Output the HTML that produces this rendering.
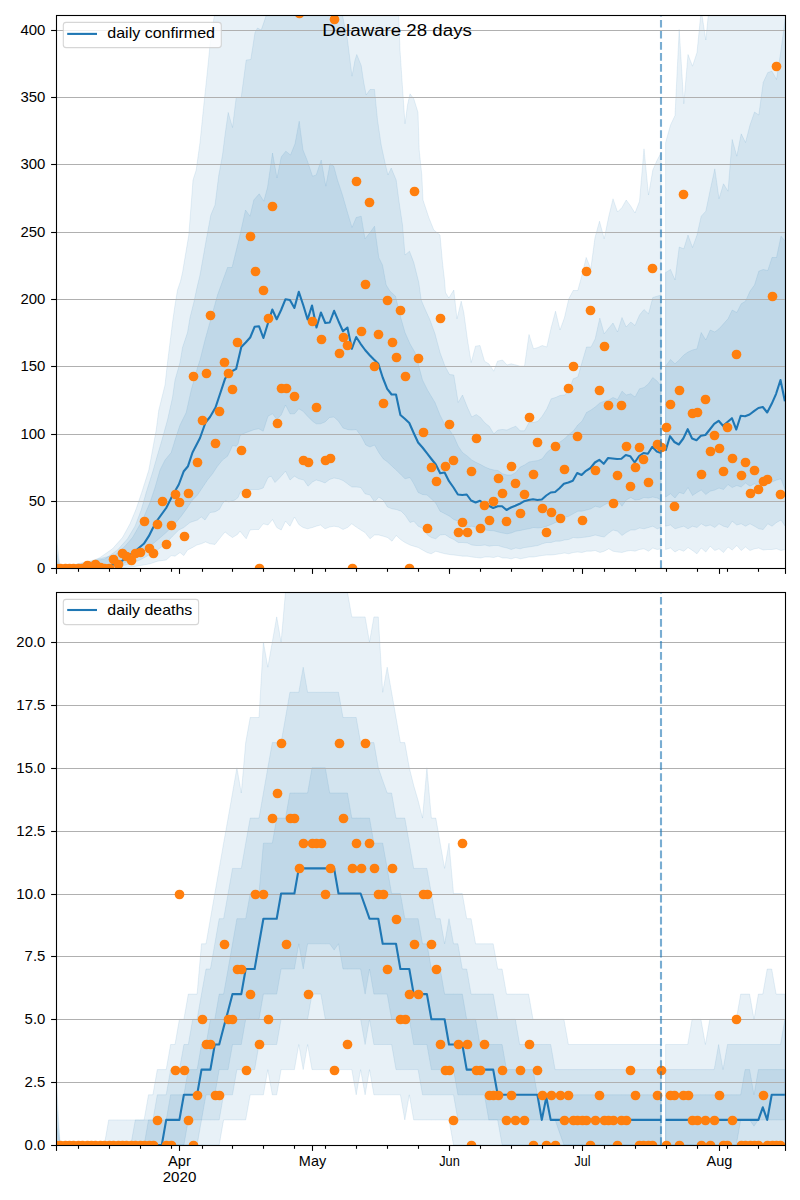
<!DOCTYPE html>
<html><head><meta charset="utf-8"><title>Delaware 28 days</title>
<style>html,body{margin:0;padding:0;background:#fff}svg{display:block}text{font-family:"Liberation Sans",sans-serif;fill:#000}</style></head><body>
<svg width="800" height="1200" viewBox="0 0 800 1200">
<rect width="800" height="1200" fill="#fff"/>
<defs><clipPath id="ct"><rect x="56" y="15.05" width="728.92" height="553.0"/></clipPath><clipPath id="cb"><rect x="56" y="592.05" width="728.92" height="553.0"/></clipPath></defs>
<g clip-path="url(#ct)">
<polygon points="55.7,531.7 60.1,567.6 87.5,563.8 100.0,557.5 112.5,548.8 122.5,537.5 130.0,523.8 136.2,508.8 142.5,490.0 148.8,470.0 152.5,450.0 156.2,430.0 158.8,410.0 165.0,385.0 167.5,362.5 170.0,342.5 172.5,322.5 175.0,305.0 177.5,290.0 180.5,281.2 182.5,272.5 188.8,235.0 193.0,180.0 196.2,170.0 200.0,142.5 203.8,105.0 207.0,75.0 210.0,45.0 213.8,18.8 215.5,10.0 217.5,-10.0 300.0,-30.0 390.0,-30.0 398.0,-10.0 398.8,15.5 400.0,50.0 402.5,87.5 405.0,123.8 407.5,105.0 410.0,93.8 413.8,98.8 418.0,112.5 419.2,150.0 421.8,175.0 423.0,200.0 428.8,217.5 433.8,230.0 440.0,235.0 442.5,262.5 444.5,280.0 445.5,292.5 448.8,298.0 453.8,290.0 457.0,318.8 461.2,301.2 463.8,312.5 467.5,340.0 471.2,362.5 475.5,346.2 480.0,345.5 484.5,361.2 488.8,363.8 493.8,371.2 497.5,361.2 502.5,360.0 507.0,365.0 511.2,363.8 515.8,365.0 520.2,366.2 524.5,366.2 529.0,334.5 533.5,348.8 538.0,347.5 542.2,345.5 546.8,347.0 551.2,327.5 555.5,311.2 560.0,330.0 564.5,317.5 568.8,298.8 573.2,290.5 577.8,290.5 582.0,275.0 586.2,257.5 590.8,268.8 595.0,237.5 599.5,221.2 604.2,238.8 608.8,216.2 613.0,198.8 617.5,212.0 622.0,207.5 626.2,200.0 630.8,206.2 635.0,213.0 639.5,201.2 644.0,148.8 648.5,195.0 652.8,170.0 657.2,160.0 661.2,152.5 661.2,548.8 657.2,549.5 652.8,548.0 648.5,551.2 644.0,548.8 639.5,549.5 635.0,551.2 630.8,550.5 626.2,551.2 622.0,552.5 617.5,552.0 613.0,551.2 608.8,548.8 604.2,551.2 600.0,552.5 595.2,550.5 591.0,551.2 586.5,551.2 582.0,552.5 577.8,552.0 573.2,552.5 568.8,553.8 564.5,553.0 560.0,553.8 555.5,554.5 551.2,555.0 546.8,555.0 542.2,555.5 538.0,556.2 533.5,557.0 529.0,557.0 524.5,558.0 520.2,558.8 515.8,557.5 511.2,558.8 507.0,558.0 502.5,558.0 498.0,556.2 493.8,557.5 489.2,557.0 485.0,557.0 480.5,558.0 476.2,557.5 471.8,557.0 467.5,556.2 462.5,556.2 458.2,555.5 453.8,555.0 449.5,554.5 445.0,553.8 440.0,552.5 435.8,551.2 431.2,553.8 427.0,552.5 422.5,550.0 418.2,547.5 413.8,546.2 410.0,545.0 405.0,542.5 401.2,540.0 396.2,535.5 392.0,541.2 387.5,537.5 383.2,536.2 378.8,535.0 374.5,535.0 370.0,538.8 365.0,532.5 360.8,530.0 356.2,527.0 351.8,523.8 347.5,527.5 343.0,529.5 338.5,527.0 334.0,526.2 329.5,527.0 325.0,528.8 320.5,525.0 316.2,526.2 312.5,527.5 307.5,528.8 303.0,527.5 298.8,524.5 294.5,517.0 290.0,526.2 285.5,521.2 281.2,530.0 276.8,527.5 272.5,519.5 268.0,525.0 263.2,523.8 258.8,529.5 254.5,529.5 250.0,530.0 246.2,538.8 240.0,531.2 237.5,534.4 232.5,537.5 228.8,535.0 225.0,531.9 220.0,538.1 215.0,544.4 210.0,543.8 205.6,541.9 201.2,543.8 196.9,545.0 192.5,547.5 187.5,550.0 183.8,555.6 180.0,552.5 175.0,556.2 171.2,555.6 166.2,560.0 157.5,561.2 150.0,563.8 135.0,566.5 120.0,568.0 55.7,568.0" fill="#1f77b4" fill-opacity="0.1" stroke="#1f77b4" stroke-opacity="0.1" stroke-width="1" stroke-linejoin="miter"/>
<polygon points="55.7,547.9 60.1,567.8 105.0,558.8 117.5,550.0 127.5,538.8 135.0,526.2 141.2,510.0 146.2,492.5 152.5,472.5 157.5,455.0 161.2,442.5 167.5,420.0 172.5,397.5 175.0,380.0 180.0,362.5 182.5,347.5 187.5,332.5 190.0,317.5 193.8,302.5 197.0,287.5 200.0,275.0 206.2,240.0 210.8,215.0 215.0,205.0 218.8,175.0 222.5,155.0 225.0,135.0 228.2,112.5 232.5,127.5 236.2,97.5 241.2,97.5 246.2,60.0 250.8,59.5 255.0,32.5 257.5,28.0 261.2,30.0 266.2,15.5 268.0,-10.0 341.2,-10.0 342.5,15.5 347.5,40.0 352.0,76.2 355.0,60.0 356.8,54.5 361.2,65.5 363.8,82.5 366.2,95.0 370.0,89.5 374.5,89.5 377.5,120.0 381.2,145.0 385.5,165.0 388.0,175.0 391.2,168.0 396.2,180.0 398.8,200.0 402.5,225.0 405.0,255.0 409.5,251.2 413.8,262.5 418.8,282.5 421.2,300.0 425.0,309.0 430.0,320.0 435.0,333.8 440.0,352.5 445.0,366.2 449.5,374.5 453.8,375.0 458.2,402.5 462.5,395.0 467.5,407.5 471.8,417.0 476.2,414.5 480.5,417.5 485.0,423.0 489.2,426.2 493.8,433.8 498.0,430.0 502.5,429.5 507.0,430.0 511.2,428.0 515.8,426.2 520.2,430.8 524.5,430.8 529.0,422.5 533.5,422.5 538.0,421.2 542.2,416.2 546.8,408.8 551.2,398.8 555.5,397.5 560.0,395.5 564.5,395.0 568.8,391.2 573.2,378.8 577.8,377.0 582.0,362.5 586.5,347.0 591.0,347.0 595.2,338.8 599.8,318.0 604.2,333.8 608.8,328.0 613.0,323.0 617.5,332.0 622.0,317.5 626.2,327.0 630.8,322.0 635.0,325.5 639.5,315.0 644.0,309.5 648.5,313.8 652.8,297.5 657.2,296.2 661.2,295.0 661.2,527.5 657.2,528.8 652.8,526.2 648.5,527.5 644.0,528.8 639.5,528.0 635.0,530.0 630.8,530.0 626.2,532.5 622.0,535.5 617.5,531.2 613.0,530.0 608.8,533.0 604.2,537.0 600.0,536.2 595.2,535.0 591.0,536.2 586.5,537.0 582.0,537.5 577.8,538.0 573.2,537.5 568.8,539.5 564.5,540.0 560.0,541.2 555.5,541.2 551.2,542.5 546.8,542.5 542.2,543.8 538.0,545.5 533.5,546.2 529.0,547.0 524.5,547.5 520.2,548.8 515.8,548.0 511.2,549.5 507.0,548.0 502.5,547.0 498.0,545.5 493.8,545.5 489.2,546.2 485.0,545.0 480.5,545.5 476.2,545.5 471.8,545.0 467.5,543.0 462.5,542.5 458.2,542.5 453.8,539.5 449.5,537.5 445.0,534.5 440.0,535.0 435.8,538.8 431.2,537.5 427.5,535.0 422.5,528.2 418.2,526.2 413.8,521.2 410.0,522.5 405.0,515.0 401.2,511.2 396.2,509.5 392.0,508.8 387.5,507.0 383.2,500.0 378.8,497.0 374.5,502.0 370.0,495.0 365.0,493.8 360.8,487.5 356.2,487.0 351.8,487.0 347.5,483.8 343.0,480.5 338.5,478.8 334.0,478.0 329.5,479.5 325.0,483.0 320.5,481.2 316.2,480.0 312.5,482.0 308.0,486.2 303.8,480.0 298.8,478.8 294.5,476.2 290.0,480.0 285.5,471.2 280.0,477.5 275.0,482.5 271.2,476.2 268.0,477.5 263.2,488.0 258.8,489.5 251.2,489.5 246.2,490.5 240.0,492.5 238.1,497.5 235.0,500.0 228.8,501.9 225.0,500.6 222.5,503.8 219.4,509.4 215.0,511.9 210.0,512.5 205.0,520.0 201.2,516.9 197.5,520.0 193.8,521.2 190.0,522.5 183.8,527.5 178.8,530.0 172.5,536.2 166.2,543.1 157.5,550.0 150.0,554.4 140.0,560.0 130.0,564.0 112.0,568.0 55.7,568.0" fill="#1f77b4" fill-opacity="0.1" stroke="#1f77b4" stroke-opacity="0.1" stroke-width="1" stroke-linejoin="miter"/>
<polygon points="55.7,557.3 60.1,567.9 115.0,555.0 125.0,546.2 132.5,537.5 142.5,520.0 150.0,502.5 155.0,487.5 160.0,470.0 165.0,460.0 171.2,452.5 175.0,440.0 180.0,425.0 186.2,412.5 191.2,390.0 197.5,367.5 200.0,360.0 205.0,340.0 217.5,295.0 227.5,267.5 232.0,267.5 238.8,240.0 245.5,210.0 250.0,216.2 253.8,200.0 259.2,193.8 263.8,201.2 267.5,187.5 272.5,153.0 277.0,178.0 281.2,157.0 285.8,151.2 290.5,155.0 295.0,143.8 299.2,121.2 303.0,150.0 307.5,161.2 312.5,176.2 316.2,175.0 321.2,160.0 325.8,186.2 330.0,163.8 333.8,166.2 337.5,180.0 342.5,195.0 347.5,212.5 352.0,227.5 356.2,217.5 361.2,216.2 365.0,238.8 370.0,232.5 374.5,226.2 378.8,257.5 382.5,265.0 386.2,285.0 390.0,291.2 395.5,296.2 400.0,315.0 405.0,332.5 410.0,343.8 415.0,352.5 418.2,363.8 422.5,380.0 427.5,390.0 435.0,402.5 440.0,415.0 445.0,425.0 449.5,430.0 453.8,436.2 458.2,446.2 462.5,452.5 467.5,456.2 471.8,460.0 476.2,462.5 480.5,464.5 485.0,467.0 489.2,468.8 493.8,470.0 498.0,470.5 502.5,473.8 507.0,475.0 511.2,475.0 515.8,472.5 520.2,467.0 524.5,465.0 529.0,462.0 533.5,461.2 538.0,460.5 542.2,458.8 546.8,452.5 551.2,448.8 555.5,445.0 560.0,442.0 564.5,438.8 568.8,434.5 573.2,431.2 577.8,425.0 582.0,421.2 586.5,412.5 591.0,410.0 595.2,407.0 599.8,403.0 604.2,401.2 608.8,400.0 613.0,397.5 617.5,399.5 622.0,391.2 626.2,395.0 630.8,393.8 635.0,397.0 639.5,388.8 644.0,387.5 648.5,383.8 652.8,377.5 657.2,381.2 661.2,386.2 661.2,500.0 657.2,498.0 652.8,497.0 648.5,498.0 644.0,497.5 639.5,499.5 635.0,500.0 630.8,497.5 626.2,500.0 622.0,506.2 617.5,500.0 613.0,501.2 608.8,502.5 604.2,505.0 600.0,507.5 595.2,506.2 591.0,508.8 586.5,510.0 582.0,511.2 577.8,511.2 573.2,513.8 568.8,516.2 564.5,517.5 560.0,521.2 555.5,522.5 551.2,524.5 546.8,526.2 542.2,527.5 538.0,528.0 533.5,527.5 529.0,528.8 524.5,529.5 520.2,530.5 515.8,531.2 511.2,533.0 507.0,533.8 502.5,533.0 498.0,532.0 493.8,530.8 489.2,530.5 485.0,530.0 480.5,529.5 476.2,527.5 471.8,526.2 467.5,527.0 462.5,526.2 458.2,521.2 453.8,519.5 449.5,516.2 445.0,513.8 440.0,511.2 435.8,503.2 431.2,498.8 427.0,495.0 422.5,494.5 418.2,492.5 413.8,483.8 410.0,477.5 405.0,478.8 401.2,475.0 396.2,470.0 392.0,466.2 387.5,462.0 383.2,458.8 378.8,452.5 374.5,445.0 370.0,447.0 365.8,445.0 361.2,436.2 356.2,429.5 351.8,430.0 347.5,429.5 343.0,428.0 338.5,421.2 334.0,417.0 329.5,417.5 325.0,422.0 320.5,423.8 316.2,423.8 312.5,421.2 307.5,416.2 303.0,411.2 298.8,408.8 294.5,413.8 290.0,413.8 285.5,405.0 281.2,415.0 276.8,419.5 272.5,413.8 268.0,416.2 263.2,431.2 258.8,428.8 254.5,429.5 250.0,431.2 245.0,433.0 240.0,435.5 238.1,443.8 236.2,446.2 232.5,445.6 230.0,451.2 227.5,456.2 222.5,460.0 217.5,466.2 212.5,473.8 207.5,480.0 202.5,487.5 197.5,495.0 192.5,500.0 187.5,507.5 181.2,516.2 175.0,523.8 166.2,532.5 157.5,540.0 150.0,546.2 135.0,558.0 120.0,565.0 105.0,568.0 55.7,568.0" fill="#1f77b4" fill-opacity="0.1" stroke="#1f77b4" stroke-opacity="0.1" stroke-width="1" stroke-linejoin="miter"/>
<polygon points="665.6,142.5 670.5,125.0 675.0,115.5 679.2,29.5 683.8,103.8 688.0,54.5 692.5,66.2 697.0,52.5 701.2,10.0 705.8,40.0 708.8,10.0 710.0,-10.0 790.0,-40.0 785.2,549.5 781.0,550.5 776.5,548.8 772.0,549.5 767.8,549.5 763.2,550.0 758.8,548.0 754.5,548.8 750.0,550.5 745.5,547.0 741.2,550.5 736.8,545.5 732.2,550.0 728.0,547.0 723.5,552.5 719.0,548.8 714.8,550.5 710.2,546.2 705.8,552.0 701.2,548.0 697.0,553.8 692.5,550.5 688.0,547.5 683.8,551.2 679.2,549.5 675.0,552.0 670.5,548.0 665.6,549.5" fill="#1f77b4" fill-opacity="0.1" stroke="#1f77b4" stroke-opacity="0.1" stroke-width="1" stroke-linejoin="miter"/>
<polygon points="665.6,272.5 670.5,269.5 675.0,280.0 679.2,247.0 683.8,248.8 688.0,235.0 692.5,247.5 697.0,235.0 701.2,216.2 705.8,211.2 710.2,190.0 714.8,168.8 719.0,198.8 723.5,183.8 728.0,191.2 732.2,139.5 736.8,156.2 741.2,133.8 745.5,142.5 750.0,125.0 754.5,112.0 758.8,115.0 763.2,82.5 767.8,72.5 772.0,71.2 776.5,79.5 781.0,50.0 785.2,18.8 785.2,526.2 781.0,520.0 776.5,522.5 772.0,526.2 767.8,523.8 763.2,529.5 758.8,528.8 754.5,526.2 750.0,523.8 745.5,526.2 741.2,523.8 736.8,525.0 732.2,521.2 728.0,527.5 723.5,526.2 719.0,523.8 714.8,527.5 710.2,525.0 705.8,526.2 701.2,523.8 697.0,527.5 692.5,526.2 688.0,528.8 683.8,526.2 679.2,527.5 675.0,528.8 670.5,525.0 665.6,526.2" fill="#1f77b4" fill-opacity="0.1" stroke="#1f77b4" stroke-opacity="0.1" stroke-width="1" stroke-linejoin="miter"/>
<polygon points="665.6,366.2 670.5,359.5 675.0,363.8 679.2,360.0 683.8,355.0 688.0,352.0 692.5,350.0 697.0,348.8 701.2,332.5 705.8,340.0 710.2,330.0 714.8,332.0 719.0,328.8 723.5,323.8 728.0,318.8 732.2,310.0 736.8,312.5 741.2,303.8 745.5,301.2 750.0,291.2 754.5,285.0 758.8,271.2 763.2,269.5 767.8,270.5 772.0,257.5 776.5,257.5 781.0,236.2 785.2,241.2 785.2,490.0 781.0,478.8 776.5,480.0 772.0,482.0 767.8,483.8 763.2,485.0 758.8,486.2 754.5,483.8 750.0,486.2 745.5,483.0 741.2,487.0 736.8,485.5 732.2,487.5 728.0,484.5 723.5,489.5 719.0,488.0 714.8,490.0 710.2,491.2 705.8,494.5 701.2,490.0 697.0,492.5 692.5,495.5 688.0,487.5 683.8,493.8 679.2,492.5 675.0,498.0 670.5,493.8 665.6,497.0" fill="#1f77b4" fill-opacity="0.1" stroke="#1f77b4" stroke-opacity="0.1" stroke-width="1" stroke-linejoin="miter"/>
</g>
<g clip-path="url(#ct)" stroke="#b0b0b0" stroke-width="1.1"><line x1="55.7" x2="784.92" y1="501.5" y2="501.5"/><line x1="55.7" x2="784.92" y1="434.5" y2="434.5"/><line x1="55.7" x2="784.92" y1="366.5" y2="366.5"/><line x1="55.7" x2="784.92" y1="299.5" y2="299.5"/><line x1="55.7" x2="784.92" y1="232.5" y2="232.5"/><line x1="55.7" x2="784.92" y1="164.5" y2="164.5"/><line x1="55.7" x2="784.92" y1="97.5" y2="97.5"/><line x1="55.7" x2="784.92" y1="30.5" y2="30.5"/></g>
<g clip-path="url(#ct)" fill="none" stroke="#1f77b4" stroke-width="2.1" stroke-linejoin="round"><polyline points="55.7,568.0 100.0,567.3 117.5,563.8 125.0,558.8 135.0,551.2 143.8,543.8 148.8,536.2 152.5,528.8 157.5,520.0 166.2,508.0 172.5,495.5 178.8,484.5 183.8,471.2 188.0,466.2 192.5,452.5 200.0,438.0 205.5,422.5 210.0,417.0 215.5,407.5 220.5,392.5 225.0,378.8 228.8,373.0 236.2,368.8 241.3,347.0 245.7,342.5 250.2,337.5 254.6,326.8 259.0,326.2 263.4,338.0 267.8,323.8 272.3,309.5 276.7,319.2 281.1,310.0 285.5,299.2 289.9,300.0 294.4,308.0 298.8,291.8 303.2,305.0 307.6,319.5 312.0,305.5 316.5,327.5 320.9,312.5 325.3,323.0 329.7,322.5 334.1,310.8 338.5,321.2 343.0,331.2 347.4,327.5 351.8,348.8 356.2,337.0 360.6,343.8 365.1,350.0 369.5,355.0 373.9,359.5 378.3,363.8 382.7,377.5 387.2,388.8 391.6,394.5 396.0,394.5 400.4,415.0 404.8,418.8 409.3,423.0 413.7,433.0 418.1,442.5 422.5,447.5 426.9,453.2 431.4,459.0 435.8,464.5 440.2,473.2 444.6,472.5 449.0,481.2 453.5,487.5 457.9,494.5 462.3,495.0 466.7,494.5 471.1,500.5 475.6,502.5 480.0,500.8 484.4,503.8 488.8,505.8 493.2,508.0 497.7,506.2 502.1,506.2 506.5,510.0 510.9,507.5 515.3,505.8 519.7,503.8 524.2,501.2 528.6,500.0 533.0,499.2 537.4,500.0 541.8,499.5 546.3,495.5 550.7,492.5 555.1,492.0 559.5,488.2 563.9,483.8 568.4,482.5 572.8,480.8 577.2,473.0 581.6,475.0 586.0,470.8 590.5,468.0 594.9,462.5 599.3,459.8 603.7,463.8 608.1,458.0 612.6,458.5 617.0,459.0 621.4,458.8 625.8,455.0 630.2,456.2 634.7,462.5 639.1,456.0 643.5,453.0 647.9,453.8 652.3,446.8 656.8,451.5 661.2,453.0"/><polyline points="665.6,450.8 670.0,436.2 674.4,442.0 678.8,444.5 683.3,438.5 687.7,429.2 692.1,438.5 696.5,440.2 700.9,435.8 705.4,435.0 709.8,429.5 714.2,423.8 718.6,420.8 723.0,425.8 727.5,422.0 731.9,418.2 736.3,429.5 740.7,415.8 745.1,416.2 749.6,414.5 754.0,411.2 758.4,408.0 762.8,407.0 767.2,412.5 771.7,403.8 776.1,393.8 780.5,380.0 784.9,401.2"/></g>
<g clip-path="url(#ct)" fill="#ff7f0e"><circle cx="56.5" cy="568.5" r="4.85"/><circle cx="60.5" cy="568.5" r="4.85"/><circle cx="65.5" cy="568.5" r="4.85"/><circle cx="69.5" cy="568.5" r="4.85"/><circle cx="73.5" cy="568.5" r="4.85"/><circle cx="78.5" cy="568.5" r="4.85"/><circle cx="82.5" cy="568.5" r="4.85"/><circle cx="87.5" cy="565.5" r="4.85"/><circle cx="91.5" cy="568.5" r="4.85"/><circle cx="95.5" cy="564.5" r="4.85"/><circle cx="100.5" cy="567.5" r="4.85"/><circle cx="104.5" cy="568.5" r="4.85"/><circle cx="109.5" cy="568.5" r="4.85"/><circle cx="113.5" cy="559.5" r="4.85"/><circle cx="118.5" cy="564.5" r="4.85"/><circle cx="122.5" cy="553.5" r="4.85"/><circle cx="126.5" cy="556.5" r="4.85"/><circle cx="131.5" cy="560.5" r="4.85"/><circle cx="135.5" cy="553.5" r="4.85"/><circle cx="140.5" cy="552.5" r="4.85"/><circle cx="144.5" cy="521.5" r="4.85"/><circle cx="149.5" cy="548.5" r="4.85"/><circle cx="153.5" cy="553.5" r="4.85"/><circle cx="157.5" cy="524.5" r="4.85"/><circle cx="162.5" cy="501.5" r="4.85"/><circle cx="166.5" cy="544.5" r="4.85"/><circle cx="171.5" cy="525.5" r="4.85"/><circle cx="175.5" cy="494.5" r="4.85"/><circle cx="179.5" cy="502.5" r="4.85"/><circle cx="184.5" cy="536.5" r="4.85"/><circle cx="188.5" cy="493.5" r="4.85"/><circle cx="193.5" cy="376.5" r="4.85"/><circle cx="197.5" cy="462.5" r="4.85"/><circle cx="202.5" cy="420.5" r="4.85"/><circle cx="206.5" cy="373.5" r="4.85"/><circle cx="210.5" cy="315.5" r="4.85"/><circle cx="215.5" cy="443.5" r="4.85"/><circle cx="219.5" cy="411.5" r="4.85"/><circle cx="224.5" cy="362.5" r="4.85"/><circle cx="228.5" cy="373.5" r="4.85"/><circle cx="232.5" cy="389.5" r="4.85"/><circle cx="237.5" cy="342.5" r="4.85"/><circle cx="241.5" cy="450.5" r="4.85"/><circle cx="246.5" cy="493.5" r="4.85"/><circle cx="250.5" cy="236.5" r="4.85"/><circle cx="255.5" cy="271.5" r="4.85"/><circle cx="259.5" cy="568.5" r="4.85"/><circle cx="263.5" cy="290.5" r="4.85"/><circle cx="268.5" cy="318.5" r="4.85"/><circle cx="272.5" cy="206.5" r="4.85"/><circle cx="277.5" cy="423.5" r="4.85"/><circle cx="281.5" cy="388.5" r="4.85"/><circle cx="286.5" cy="388.5" r="4.85"/><circle cx="294.5" cy="396.5" r="4.85"/><circle cx="299.5" cy="13.5" r="4.85"/><circle cx="303.5" cy="460.5" r="4.85"/><circle cx="308.5" cy="462.5" r="4.85"/><circle cx="312.5" cy="321.5" r="4.85"/><circle cx="316.5" cy="407.5" r="4.85"/><circle cx="321.5" cy="339.5" r="4.85"/><circle cx="325.5" cy="460.5" r="4.85"/><circle cx="330.5" cy="458.5" r="4.85"/><circle cx="334.5" cy="19.5" r="4.85"/><circle cx="339.5" cy="353.5" r="4.85"/><circle cx="343.5" cy="337.5" r="4.85"/><circle cx="347.5" cy="345.5" r="4.85"/><circle cx="352.5" cy="568.5" r="4.85"/><circle cx="356.5" cy="181.5" r="4.85"/><circle cx="361.5" cy="331.5" r="4.85"/><circle cx="365.5" cy="284.5" r="4.85"/><circle cx="369.5" cy="202.5" r="4.85"/><circle cx="374.5" cy="366.5" r="4.85"/><circle cx="378.5" cy="334.5" r="4.85"/><circle cx="383.5" cy="403.5" r="4.85"/><circle cx="387.5" cy="300.5" r="4.85"/><circle cx="392.5" cy="342.5" r="4.85"/><circle cx="396.5" cy="357.5" r="4.85"/><circle cx="400.5" cy="310.5" r="4.85"/><circle cx="405.5" cy="376.5" r="4.85"/><circle cx="409.5" cy="568.5" r="4.85"/><circle cx="414.5" cy="191.5" r="4.85"/><circle cx="418.5" cy="358.5" r="4.85"/><circle cx="423.5" cy="432.5" r="4.85"/><circle cx="427.5" cy="528.5" r="4.85"/><circle cx="431.5" cy="467.5" r="4.85"/><circle cx="436.5" cy="481.5" r="4.85"/><circle cx="440.5" cy="318.5" r="4.85"/><circle cx="445.5" cy="466.5" r="4.85"/><circle cx="449.5" cy="424.5" r="4.85"/><circle cx="453.5" cy="460.5" r="4.85"/><circle cx="458.5" cy="532.5" r="4.85"/><circle cx="462.5" cy="522.5" r="4.85"/><circle cx="467.5" cy="532.5" r="4.85"/><circle cx="471.5" cy="471.5" r="4.85"/><circle cx="476.5" cy="438.5" r="4.85"/><circle cx="480.5" cy="528.5" r="4.85"/><circle cx="484.5" cy="505.5" r="4.85"/><circle cx="489.5" cy="520.5" r="4.85"/><circle cx="493.5" cy="501.5" r="4.85"/><circle cx="498.5" cy="478.5" r="4.85"/><circle cx="502.5" cy="493.5" r="4.85"/><circle cx="506.5" cy="521.5" r="4.85"/><circle cx="511.5" cy="466.5" r="4.85"/><circle cx="515.5" cy="483.5" r="4.85"/><circle cx="520.5" cy="513.5" r="4.85"/><circle cx="524.5" cy="494.5" r="4.85"/><circle cx="529.5" cy="417.5" r="4.85"/><circle cx="533.5" cy="474.5" r="4.85"/><circle cx="537.5" cy="442.5" r="4.85"/><circle cx="542.5" cy="508.5" r="4.85"/><circle cx="546.5" cy="532.5" r="4.85"/><circle cx="551.5" cy="512.5" r="4.85"/><circle cx="555.5" cy="446.5" r="4.85"/><circle cx="560.5" cy="518.5" r="4.85"/><circle cx="564.5" cy="469.5" r="4.85"/><circle cx="568.5" cy="388.5" r="4.85"/><circle cx="573.5" cy="366.5" r="4.85"/><circle cx="577.5" cy="436.5" r="4.85"/><circle cx="582.5" cy="520.5" r="4.85"/><circle cx="586.5" cy="271.5" r="4.85"/><circle cx="590.5" cy="310.5" r="4.85"/><circle cx="595.5" cy="470.5" r="4.85"/><circle cx="599.5" cy="390.5" r="4.85"/><circle cx="604.5" cy="346.5" r="4.85"/><circle cx="608.5" cy="405.5" r="4.85"/><circle cx="613.5" cy="503.5" r="4.85"/><circle cx="617.5" cy="475.5" r="4.85"/><circle cx="621.5" cy="405.5" r="4.85"/><circle cx="626.5" cy="446.5" r="4.85"/><circle cx="630.5" cy="486.5" r="4.85"/><circle cx="635.5" cy="467.5" r="4.85"/><circle cx="639.5" cy="447.5" r="4.85"/><circle cx="643.5" cy="459.5" r="4.85"/><circle cx="648.5" cy="482.5" r="4.85"/><circle cx="652.5" cy="268.5" r="4.85"/><circle cx="657.5" cy="444.5" r="4.85"/><circle cx="661.5" cy="447.5" r="4.85"/><circle cx="666.5" cy="427.5" r="4.85"/><circle cx="670.5" cy="404.5" r="4.85"/><circle cx="674.5" cy="506.5" r="4.85"/><circle cx="679.5" cy="390.5" r="4.85"/><circle cx="683.5" cy="194.5" r="4.85"/><circle cx="692.5" cy="413.5" r="4.85"/><circle cx="697.5" cy="412.5" r="4.85"/><circle cx="701.5" cy="474.5" r="4.85"/><circle cx="705.5" cy="399.5" r="4.85"/><circle cx="710.5" cy="451.5" r="4.85"/><circle cx="714.5" cy="435.5" r="4.85"/><circle cx="719.5" cy="448.5" r="4.85"/><circle cx="723.5" cy="471.5" r="4.85"/><circle cx="727.5" cy="427.5" r="4.85"/><circle cx="732.5" cy="458.5" r="4.85"/><circle cx="736.5" cy="354.5" r="4.85"/><circle cx="741.5" cy="475.5" r="4.85"/><circle cx="745.5" cy="462.5" r="4.85"/><circle cx="750.5" cy="493.5" r="4.85"/><circle cx="754.5" cy="470.5" r="4.85"/><circle cx="758.5" cy="489.5" r="4.85"/><circle cx="763.5" cy="481.5" r="4.85"/><circle cx="767.5" cy="479.5" r="4.85"/><circle cx="772.5" cy="296.5" r="4.85"/><circle cx="776.5" cy="66.5" r="4.85"/><circle cx="780.5" cy="494.5" r="4.85"/></g>
<line x1="661.0" x2="661.0" y1="568.05" y2="15.05" stroke="#1f77b4" stroke-opacity="0.6" stroke-width="2.1" stroke-dasharray="7.7 3.33" stroke-dashoffset="0" transform="translate(0,0)"/>
<g clip-path="url(#cb)">
<polygon points="55.7,1069.6 60.1,1145.0 64.5,1145.0 69.0,1145.0 73.4,1145.0 77.8,1145.0 82.2,1145.0 86.6,1145.0 91.1,1145.0 95.5,1145.0 99.9,1145.0 104.3,1145.0 108.7,1119.9 113.2,1119.9 117.6,1119.9 122.0,1119.9 126.4,1119.9 130.8,1119.9 135.3,1119.9 139.7,1119.9 144.1,1119.9 148.5,1094.8 152.9,1094.8 157.3,1069.6 161.8,1069.6 166.2,1069.6 170.6,1044.5 175.0,1044.5 179.4,1019.3 183.9,1019.3 188.3,994.1 192.7,994.1 197.1,994.1 201.5,943.8 206.0,943.8 210.4,918.7 214.8,893.5 219.2,868.4 223.6,843.2 228.1,818.1 232.5,793.0 236.9,767.8 241.3,793.0 245.7,742.6 250.2,717.5 254.6,717.5 259.0,717.5 263.4,642.0 267.8,667.2 272.3,642.0 276.7,616.9 281.1,642.0 285.5,591.8 289.9,541.5 294.4,541.5 298.8,541.5 303.2,541.5 307.6,541.5 312.0,541.5 316.5,541.5 320.9,541.5 325.3,541.5 329.7,541.5 334.1,541.5 338.5,541.5 343.0,541.5 347.4,591.8 351.8,616.9 356.2,616.9 360.6,616.9 365.1,616.9 369.5,642.0 373.9,616.9 378.3,616.9 382.7,692.3 387.2,667.2 391.6,692.3 396.0,717.5 400.4,742.6 404.8,742.6 409.3,767.8 413.7,785.4 418.1,800.5 422.5,818.1 426.9,767.8 431.4,818.1 435.8,818.1 440.2,843.2 444.6,868.4 449.0,843.2 453.5,893.5 457.9,893.5 462.3,893.5 466.7,918.7 471.1,918.7 475.6,943.8 480.0,943.8 484.4,943.8 488.8,943.8 493.2,943.8 497.7,969.0 502.1,969.0 506.5,994.1 510.9,994.1 515.3,994.1 519.7,994.1 524.2,994.1 528.6,994.1 533.0,1019.3 537.4,1019.3 541.8,1019.3 546.3,1019.3 550.7,1019.3 555.1,1019.3 559.5,1019.3 563.9,1019.3 568.4,1044.5 572.8,1044.5 577.2,1044.5 581.6,1044.5 586.0,1044.5 590.5,1044.5 594.9,1044.5 599.3,1044.5 603.7,1044.5 608.1,1044.5 612.6,1044.5 617.0,1044.5 621.4,1044.5 625.8,1044.5 630.2,1044.5 634.7,1044.5 639.1,1044.5 643.5,1044.5 647.9,1044.5 652.3,1044.5 656.8,1044.5 661.2,1044.5 661.2,1145.0 656.8,1145.0 652.3,1145.0 647.9,1145.0 643.5,1145.0 639.1,1145.0 634.7,1145.0 630.2,1145.0 625.8,1145.0 621.4,1145.0 617.0,1145.0 612.6,1145.0 608.1,1145.0 603.7,1145.0 599.3,1145.0 594.9,1145.0 590.5,1145.0 586.0,1145.0 581.6,1145.0 577.2,1145.0 572.8,1145.0 568.4,1145.0 563.9,1145.0 559.5,1145.0 555.1,1145.0 550.7,1145.0 546.3,1145.0 541.8,1145.0 537.4,1145.0 533.0,1145.0 528.6,1145.0 524.2,1145.0 519.7,1145.0 515.3,1145.0 510.9,1145.0 506.5,1145.0 502.1,1145.0 497.7,1145.0 493.2,1145.0 488.8,1145.0 484.4,1145.0 480.0,1145.0 475.6,1145.0 471.1,1145.0 466.7,1145.0 462.3,1145.0 457.9,1145.0 453.5,1145.0 449.0,1119.9 444.6,1119.9 440.2,1119.9 435.8,1119.9 431.4,1119.9 426.9,1119.9 422.5,1119.9 418.1,1119.9 413.7,1119.9 409.3,1094.8 404.8,1119.9 400.4,1094.8 396.0,1094.8 391.6,1094.8 387.2,1094.8 382.7,1094.8 378.3,1094.8 373.9,1094.8 369.5,1069.6 365.1,1094.8 360.6,1069.6 356.2,1094.8 351.8,1069.6 347.4,1069.6 343.0,1069.6 338.5,1069.6 334.1,1069.6 329.7,1069.6 325.3,1069.6 320.9,1069.6 316.5,1069.6 312.0,1069.6 307.6,1044.5 303.2,1069.6 298.8,1044.5 294.4,1069.6 289.9,1069.6 285.5,1069.6 281.1,1069.6 276.7,1094.8 272.3,1094.8 267.8,1069.6 263.4,1094.8 259.0,1094.8 254.6,1094.8 250.2,1094.8 245.7,1119.9 241.3,1119.9 236.9,1119.9 232.5,1119.9 228.1,1119.9 223.6,1119.9 219.2,1145.0 214.8,1145.0 210.4,1145.0 206.0,1145.0 201.5,1145.0 197.1,1145.0 192.7,1145.0 188.3,1145.0 183.9,1145.0 179.4,1145.0 175.0,1145.0 170.6,1145.0 166.2,1145.0 161.8,1145.0 157.3,1145.0 152.9,1145.0 148.5,1145.0 144.1,1145.0 139.7,1145.0 135.3,1145.0 130.8,1145.0 126.4,1145.0 122.0,1145.0 117.6,1145.0 113.2,1145.0 108.7,1145.0 104.3,1145.0 99.9,1145.0 95.5,1145.0 91.1,1145.0 86.6,1145.0 82.2,1145.0 77.8,1145.0 73.4,1145.0 69.0,1145.0 64.5,1145.0 60.1,1145.0 55.7,1145.0" fill="#1f77b4" fill-opacity="0.1" stroke="#1f77b4" stroke-opacity="0.1" stroke-width="1" stroke-linejoin="miter"/>
<polygon points="55.7,1094.8 60.1,1145.0 64.5,1145.0 69.0,1145.0 73.4,1145.0 77.8,1145.0 82.2,1145.0 86.6,1145.0 91.1,1145.0 95.5,1145.0 99.9,1145.0 104.3,1145.0 108.7,1145.0 113.2,1145.0 117.6,1145.0 122.0,1145.0 126.4,1145.0 130.8,1145.0 135.3,1119.9 139.7,1119.9 144.1,1119.9 148.5,1119.9 152.9,1119.9 157.3,1094.8 161.8,1094.8 166.2,1094.8 170.6,1069.6 175.0,1069.6 179.4,1069.6 183.9,1044.5 188.3,1044.5 192.7,1019.3 197.1,1019.3 201.5,994.1 206.0,969.0 210.4,969.0 214.8,943.8 219.2,918.7 223.6,918.7 228.1,893.5 232.5,868.4 236.9,868.4 241.3,868.4 245.7,843.2 250.2,818.1 254.6,818.1 259.0,818.1 263.4,793.0 267.8,767.8 272.3,742.6 276.7,742.6 281.1,742.6 285.5,717.5 289.9,692.3 294.4,692.3 298.8,692.3 303.2,667.2 307.6,692.3 312.0,692.3 316.5,692.3 320.9,692.3 325.3,692.3 329.7,692.3 334.1,692.3 338.5,692.3 343.0,717.5 347.4,717.5 351.8,717.5 356.2,717.5 360.6,742.6 365.1,742.6 369.5,742.6 373.9,742.6 378.3,767.8 382.7,780.4 387.2,793.0 391.6,793.0 396.0,818.1 400.4,818.1 404.8,818.1 409.3,843.2 413.7,868.4 418.1,868.4 422.5,868.4 426.9,868.4 431.4,893.5 435.8,918.7 440.2,918.7 444.6,943.8 449.0,918.7 453.5,943.8 457.9,943.8 462.3,969.0 466.7,969.0 471.1,994.1 475.6,994.1 480.0,994.1 484.4,994.1 488.8,994.1 493.2,994.1 497.7,1019.3 502.1,1019.3 506.5,1019.3 510.9,1019.3 515.3,1019.3 519.7,1044.5 524.2,1044.5 528.6,1044.5 533.0,1044.5 537.4,1044.5 541.8,1044.5 546.3,1044.5 550.7,1044.5 555.1,1069.6 559.5,1069.6 563.9,1069.6 568.4,1069.6 572.8,1069.6 577.2,1069.6 581.6,1069.6 586.0,1069.6 590.5,1069.6 594.9,1069.6 599.3,1069.6 603.7,1069.6 608.1,1069.6 612.6,1069.6 617.0,1069.6 621.4,1069.6 625.8,1069.6 630.2,1069.6 634.7,1069.6 639.1,1069.6 643.5,1069.6 647.9,1069.6 652.3,1069.6 656.8,1069.6 661.2,1069.6 661.2,1145.0 656.8,1145.0 652.3,1145.0 647.9,1145.0 643.5,1145.0 639.1,1145.0 634.7,1145.0 630.2,1145.0 625.8,1145.0 621.4,1145.0 617.0,1145.0 612.6,1145.0 608.1,1145.0 603.7,1145.0 599.3,1145.0 594.9,1145.0 590.5,1145.0 586.0,1145.0 581.6,1145.0 577.2,1145.0 572.8,1145.0 568.4,1145.0 563.9,1145.0 559.5,1145.0 555.1,1145.0 550.7,1145.0 546.3,1145.0 541.8,1145.0 537.4,1145.0 533.0,1145.0 528.6,1145.0 524.2,1145.0 519.7,1145.0 515.3,1145.0 510.9,1145.0 506.5,1145.0 502.1,1145.0 497.7,1119.9 493.2,1119.9 488.8,1119.9 484.4,1119.9 480.0,1119.9 475.6,1119.9 471.1,1119.9 466.7,1119.9 462.3,1119.9 457.9,1119.9 453.5,1094.8 449.0,1094.8 444.6,1094.8 440.2,1094.8 435.8,1094.8 431.4,1094.8 426.9,1094.8 422.5,1094.8 418.1,1069.6 413.7,1069.6 409.3,1069.6 404.8,1069.6 400.4,1069.6 396.0,1069.6 391.6,1044.5 387.2,1044.5 382.7,1044.5 378.3,1044.5 373.9,1044.5 369.5,1019.3 365.1,1044.5 360.6,1019.3 356.2,1019.3 351.8,1019.3 347.4,1019.3 343.0,1019.3 338.5,1019.3 334.1,1019.3 329.7,1019.3 325.3,1019.3 320.9,994.1 316.5,994.1 312.0,994.1 307.6,1019.3 303.2,1019.3 298.8,1019.3 294.4,1019.3 289.9,1019.3 285.5,1019.3 281.1,1019.3 276.7,1044.5 272.3,1044.5 267.8,1044.5 263.4,1044.5 259.0,1044.5 254.6,1069.6 250.2,1069.6 245.7,1069.6 241.3,1069.6 236.9,1069.6 232.5,1094.8 228.1,1094.8 223.6,1094.8 219.2,1119.9 214.8,1119.9 210.4,1119.9 206.0,1119.9 201.5,1119.9 197.1,1145.0 192.7,1145.0 188.3,1145.0 183.9,1145.0 179.4,1145.0 175.0,1145.0 170.6,1145.0 166.2,1145.0 161.8,1145.0 157.3,1145.0 152.9,1145.0 148.5,1145.0 144.1,1145.0 139.7,1145.0 135.3,1145.0 130.8,1145.0 126.4,1145.0 122.0,1145.0 117.6,1145.0 113.2,1145.0 108.7,1145.0 104.3,1145.0 99.9,1145.0 95.5,1145.0 91.1,1145.0 86.6,1145.0 82.2,1145.0 77.8,1145.0 73.4,1145.0 69.0,1145.0 64.5,1145.0 60.1,1145.0 55.7,1145.0" fill="#1f77b4" fill-opacity="0.1" stroke="#1f77b4" stroke-opacity="0.1" stroke-width="1" stroke-linejoin="miter"/>
<polygon points="55.7,1119.9 60.1,1145.0 64.5,1145.0 69.0,1145.0 73.4,1145.0 77.8,1145.0 82.2,1145.0 86.6,1145.0 91.1,1145.0 95.5,1145.0 99.9,1145.0 104.3,1145.0 108.7,1145.0 113.2,1145.0 117.6,1145.0 122.0,1145.0 126.4,1145.0 130.8,1145.0 135.3,1145.0 139.7,1145.0 144.1,1145.0 148.5,1119.9 152.9,1119.9 157.3,1119.9 161.8,1119.9 166.2,1119.9 170.6,1094.8 175.0,1094.8 179.4,1094.8 183.9,1094.8 188.3,1069.6 192.7,1069.6 197.1,1069.6 201.5,1044.5 206.0,1044.5 210.4,1019.3 214.8,1019.3 219.2,994.1 223.6,994.1 228.1,969.0 232.5,943.8 236.9,918.7 241.3,918.7 245.7,918.7 250.2,893.5 254.6,893.5 259.0,893.5 263.4,843.2 267.8,843.2 272.3,843.2 276.7,818.1 281.1,818.1 285.5,818.1 289.9,793.0 294.4,793.0 298.8,793.0 303.2,793.0 307.6,793.0 312.0,767.8 316.5,767.8 320.9,767.8 325.3,767.8 329.7,793.0 334.1,793.0 338.5,793.0 343.0,793.0 347.4,793.0 351.8,818.1 356.2,818.1 360.6,818.1 365.1,818.1 369.5,818.1 373.9,843.2 378.3,843.2 382.7,843.2 387.2,868.4 391.6,893.5 396.0,893.5 400.4,893.5 404.8,918.7 409.3,918.7 413.7,918.7 418.1,918.7 422.5,943.8 426.9,943.8 431.4,969.0 435.8,969.0 440.2,969.0 444.6,994.1 449.0,994.1 453.5,994.1 457.9,994.1 462.3,994.1 466.7,1019.3 471.1,1019.3 475.6,1019.3 480.0,1044.5 484.4,1044.5 488.8,1044.5 493.2,1044.5 497.7,1044.5 502.1,1044.5 506.5,1069.6 510.9,1069.6 515.3,1069.6 519.7,1069.6 524.2,1069.6 528.6,1069.6 533.0,1069.6 537.4,1094.8 541.8,1094.8 546.3,1094.8 550.7,1094.8 555.1,1094.8 559.5,1094.8 563.9,1094.8 568.4,1094.8 572.8,1094.8 577.2,1094.8 581.6,1094.8 586.0,1094.8 590.5,1094.8 594.9,1094.8 599.3,1094.8 603.7,1094.8 608.1,1094.8 612.6,1094.8 617.0,1094.8 621.4,1094.8 625.8,1094.8 630.2,1094.8 634.7,1094.8 639.1,1094.8 643.5,1094.8 647.9,1094.8 652.3,1094.8 656.8,1094.8 661.2,1094.8 661.2,1145.0 656.8,1145.0 652.3,1145.0 647.9,1145.0 643.5,1145.0 639.1,1145.0 634.7,1145.0 630.2,1145.0 625.8,1145.0 621.4,1145.0 617.0,1145.0 612.6,1145.0 608.1,1145.0 603.7,1145.0 599.3,1145.0 594.9,1145.0 590.5,1145.0 586.0,1145.0 581.6,1145.0 577.2,1145.0 572.8,1145.0 568.4,1145.0 563.9,1145.0 559.5,1132.5 555.1,1119.9 550.7,1119.9 546.3,1119.9 541.8,1119.9 537.4,1119.9 533.0,1119.9 528.6,1119.9 524.2,1119.9 519.7,1119.9 515.3,1119.9 510.9,1119.9 506.5,1119.9 502.1,1119.9 497.7,1119.9 493.2,1119.9 488.8,1119.9 484.4,1094.8 480.0,1094.8 475.6,1094.8 471.1,1094.8 466.7,1094.8 462.3,1094.8 457.9,1094.8 453.5,1069.6 449.0,1069.6 444.6,1069.6 440.2,1069.6 435.8,1069.6 431.4,1069.6 426.9,1044.5 422.5,1044.5 418.1,1044.5 413.7,1044.5 409.3,1019.3 404.8,1019.3 400.4,1019.3 396.0,1019.3 391.6,1019.3 387.2,994.1 382.7,994.1 378.3,994.1 373.9,994.1 369.5,969.0 365.1,994.1 360.6,969.0 356.2,969.0 351.8,969.0 347.4,969.0 343.0,969.0 338.5,943.8 334.1,950.1 329.7,943.8 325.3,943.8 320.9,943.8 316.5,943.8 312.0,943.8 307.6,943.8 303.2,969.0 298.8,943.8 294.4,969.0 289.9,969.0 285.5,969.0 281.1,969.0 276.7,994.1 272.3,994.1 267.8,994.1 263.4,994.1 259.0,1019.3 254.6,1019.3 250.2,1019.3 245.7,1019.3 241.3,1044.5 236.9,1044.5 232.5,1044.5 228.1,1069.6 223.6,1069.6 219.2,1069.6 214.8,1094.8 210.4,1094.8 206.0,1094.8 201.5,1119.9 197.1,1119.9 192.7,1119.9 188.3,1119.9 183.9,1145.0 179.4,1145.0 175.0,1145.0 170.6,1145.0 166.2,1145.0 161.8,1145.0 157.3,1145.0 152.9,1145.0 148.5,1145.0 144.1,1145.0 139.7,1145.0 135.3,1145.0 130.8,1145.0 126.4,1145.0 122.0,1145.0 117.6,1145.0 113.2,1145.0 108.7,1145.0 104.3,1145.0 99.9,1145.0 95.5,1145.0 91.1,1145.0 86.6,1145.0 82.2,1145.0 77.8,1145.0 73.4,1145.0 69.0,1145.0 64.5,1145.0 60.1,1145.0 55.7,1145.0" fill="#1f77b4" fill-opacity="0.1" stroke="#1f77b4" stroke-opacity="0.1" stroke-width="1" stroke-linejoin="miter"/>
<polygon points="665.6,1044.5 670.0,1044.5 674.4,1044.5 678.8,1044.5 683.3,1044.5 687.7,1044.5 692.1,1019.3 696.5,1019.3 700.9,1019.3 705.4,1044.5 709.8,1019.3 714.2,1019.3 718.6,1019.3 723.0,1019.3 727.5,1019.3 731.9,1019.3 736.3,1019.3 740.7,994.1 745.1,994.1 749.6,994.1 754.0,1019.3 758.4,994.1 762.8,994.1 767.2,969.0 771.7,969.0 776.1,994.1 780.5,994.1 784.9,994.1 784.9,1145.0 780.5,1145.0 776.1,1145.0 771.7,1145.0 767.2,1145.0 762.8,1145.0 758.4,1145.0 754.0,1145.0 749.6,1145.0 745.1,1145.0 740.7,1145.0 736.3,1145.0 731.9,1145.0 727.5,1145.0 723.0,1145.0 718.6,1145.0 714.2,1145.0 709.8,1145.0 705.4,1145.0 700.9,1145.0 696.5,1145.0 692.1,1145.0 687.7,1145.0 683.3,1145.0 678.8,1145.0 674.4,1145.0 670.0,1145.0 665.6,1145.0" fill="#1f77b4" fill-opacity="0.1" stroke="#1f77b4" stroke-opacity="0.1" stroke-width="1" stroke-linejoin="miter"/>
<polygon points="665.6,1069.6 670.0,1069.6 674.4,1069.6 678.8,1069.6 683.3,1069.6 687.7,1069.6 692.1,1069.6 696.5,1069.6 700.9,1069.6 705.4,1069.6 709.8,1069.6 714.2,1069.6 718.6,1044.5 723.0,1069.6 727.5,1044.5 731.9,1044.5 736.3,1044.5 740.7,1044.5 745.1,1044.5 749.6,1044.5 754.0,1044.5 758.4,1044.5 762.8,1044.5 767.2,1044.5 771.7,1044.5 776.1,1044.5 780.5,1044.5 784.9,1019.3 784.9,1145.0 780.5,1145.0 776.1,1145.0 771.7,1145.0 767.2,1145.0 762.8,1145.0 758.4,1145.0 754.0,1145.0 749.6,1145.0 745.1,1145.0 740.7,1145.0 736.3,1145.0 731.9,1145.0 727.5,1145.0 723.0,1145.0 718.6,1145.0 714.2,1145.0 709.8,1145.0 705.4,1145.0 700.9,1145.0 696.5,1145.0 692.1,1145.0 687.7,1145.0 683.3,1145.0 678.8,1145.0 674.4,1145.0 670.0,1145.0 665.6,1145.0" fill="#1f77b4" fill-opacity="0.1" stroke="#1f77b4" stroke-opacity="0.1" stroke-width="1" stroke-linejoin="miter"/>
<polygon points="665.6,1094.8 670.0,1094.8 674.4,1094.8 678.8,1094.8 683.3,1094.8 687.7,1094.8 692.1,1094.8 696.5,1094.8 700.9,1094.8 705.4,1094.8 709.8,1094.8 714.2,1094.8 718.6,1094.8 723.0,1094.8 727.5,1094.8 731.9,1094.8 736.3,1094.8 740.7,1094.8 745.1,1069.6 749.6,1069.6 754.0,1094.8 758.4,1069.6 762.8,1069.6 767.2,1069.6 771.7,1069.6 776.1,1069.6 780.5,1069.6 784.9,1069.6 784.9,1119.9 780.5,1119.9 776.1,1119.9 771.7,1119.9 767.2,1119.9 762.8,1119.9 758.4,1119.9 754.0,1126.2 749.6,1119.9 745.1,1119.9 740.7,1119.9 736.3,1145.0 731.9,1145.0 727.5,1145.0 723.0,1145.0 718.6,1145.0 714.2,1145.0 709.8,1145.0 705.4,1145.0 700.9,1145.0 696.5,1145.0 692.1,1145.0 687.7,1145.0 683.3,1145.0 678.8,1145.0 674.4,1145.0 670.0,1145.0 665.6,1145.0" fill="#1f77b4" fill-opacity="0.1" stroke="#1f77b4" stroke-opacity="0.1" stroke-width="1" stroke-linejoin="miter"/>
</g>
<g clip-path="url(#cb)" stroke="#b0b0b0" stroke-width="1.1"><line x1="55.7" x2="784.92" y1="1082.5" y2="1082.5"/><line x1="55.7" x2="784.92" y1="1019.5" y2="1019.5"/><line x1="55.7" x2="784.92" y1="956.5" y2="956.5"/><line x1="55.7" x2="784.92" y1="894.5" y2="894.5"/><line x1="55.7" x2="784.92" y1="831.5" y2="831.5"/><line x1="55.7" x2="784.92" y1="768.5" y2="768.5"/><line x1="55.7" x2="784.92" y1="705.5" y2="705.5"/><line x1="55.7" x2="784.92" y1="642.5" y2="642.5"/></g>
<g clip-path="url(#cb)" fill="none" stroke="#1f77b4" stroke-width="2.1" stroke-linejoin="round"><polyline points="55.7,1145.0 60.1,1145.0 64.5,1145.0 69.0,1145.0 73.4,1145.0 77.8,1145.0 82.2,1145.0 86.6,1145.0 91.1,1145.0 95.5,1145.0 99.9,1145.0 104.3,1145.0 108.7,1145.0 113.2,1145.0 117.6,1145.0 122.0,1145.0 126.4,1145.0 130.8,1145.0 135.3,1145.0 139.7,1145.0 144.1,1145.0 148.5,1145.0 152.9,1145.0 157.3,1145.0 161.8,1145.0 166.2,1119.9 170.6,1119.9 175.0,1119.9 179.4,1119.9 183.9,1094.8 188.3,1094.8 192.7,1094.8 197.1,1094.8 201.5,1069.6 206.0,1069.6 210.4,1069.6 214.8,1044.5 219.2,1044.5 223.6,1027.6 228.1,1011.0 232.5,994.1 236.9,994.1 241.3,994.1 245.7,969.0 250.2,969.0 254.6,969.0 259.0,943.8 263.4,918.7 267.8,918.7 272.3,918.7 276.7,918.7 281.1,893.5 285.5,893.5 289.9,893.5 294.4,893.5 298.8,868.4 303.2,868.4 307.6,868.4 312.0,868.4 316.5,868.4 320.9,868.4 325.3,868.4 329.7,868.4 334.1,868.4 338.5,893.5 343.0,893.5 347.4,893.5 351.8,893.5 356.2,893.5 360.6,893.5 365.1,906.1 369.5,918.7 373.9,918.7 378.3,918.7 382.7,943.8 387.2,943.8 391.6,943.8 396.0,943.8 400.4,969.0 404.8,969.0 409.3,969.0 413.7,994.1 418.1,994.1 422.5,994.1 426.9,994.1 431.4,1019.3 435.8,1019.3 440.2,1019.3 444.6,1019.3 449.0,1044.5 453.5,1044.5 457.9,1044.5 462.3,1044.5 466.7,1069.6 471.1,1069.6 475.6,1069.6 480.0,1069.6 484.4,1069.6 488.8,1069.6 493.2,1069.6 497.7,1094.8 502.1,1094.8 506.5,1094.8 510.9,1094.8 515.3,1094.8 519.7,1094.8 524.2,1094.8 528.6,1094.8 533.0,1094.8 537.4,1094.8 541.8,1119.9 546.3,1097.3 550.7,1119.9 555.1,1119.9 559.5,1119.9 563.9,1119.9 568.4,1119.9 572.8,1119.9 577.2,1119.9 581.6,1119.9 586.0,1119.9 590.5,1119.9 594.9,1119.9 599.3,1119.9 603.7,1119.9 608.1,1119.9 612.6,1119.9 617.0,1119.9 621.4,1119.9 625.8,1119.9 630.2,1119.9 634.7,1119.9 639.1,1119.9 643.5,1119.9 647.9,1119.9 652.3,1119.9 656.8,1119.9 661.2,1119.9"/><polyline points="665.6,1119.9 670.0,1119.9 674.4,1119.9 678.8,1119.9 683.3,1119.9 687.7,1119.9 692.1,1119.9 696.5,1119.9 700.9,1119.9 705.4,1119.9 709.8,1119.9 714.2,1119.9 718.6,1119.9 723.0,1119.9 727.5,1119.9 731.9,1119.9 736.3,1119.9 740.7,1119.9 745.1,1119.9 749.6,1119.9 754.0,1119.9 758.4,1119.9 762.8,1107.3 767.2,1119.9 771.7,1094.8 776.1,1094.8 780.5,1094.8 784.9,1094.8"/></g>
<g clip-path="url(#cb)" fill="#ff7f0e"><circle cx="56.5" cy="1145.5" r="4.85"/><circle cx="60.5" cy="1145.5" r="4.85"/><circle cx="65.5" cy="1145.5" r="4.85"/><circle cx="69.5" cy="1145.5" r="4.85"/><circle cx="73.5" cy="1145.5" r="4.85"/><circle cx="78.5" cy="1145.5" r="4.85"/><circle cx="82.5" cy="1145.5" r="4.85"/><circle cx="87.5" cy="1145.5" r="4.85"/><circle cx="91.5" cy="1145.5" r="4.85"/><circle cx="95.5" cy="1145.5" r="4.85"/><circle cx="100.5" cy="1145.5" r="4.85"/><circle cx="104.5" cy="1145.5" r="4.85"/><circle cx="109.5" cy="1145.5" r="4.85"/><circle cx="113.5" cy="1145.5" r="4.85"/><circle cx="118.5" cy="1145.5" r="4.85"/><circle cx="122.5" cy="1145.5" r="4.85"/><circle cx="126.5" cy="1145.5" r="4.85"/><circle cx="131.5" cy="1145.5" r="4.85"/><circle cx="135.5" cy="1145.5" r="4.85"/><circle cx="140.5" cy="1145.5" r="4.85"/><circle cx="144.5" cy="1145.5" r="4.85"/><circle cx="149.5" cy="1145.5" r="4.85"/><circle cx="153.5" cy="1145.5" r="4.85"/><circle cx="157.5" cy="1120.5" r="4.85"/><circle cx="166.5" cy="1145.5" r="4.85"/><circle cx="171.5" cy="1145.5" r="4.85"/><circle cx="175.5" cy="1070.5" r="4.85"/><circle cx="179.5" cy="894.5" r="4.85"/><circle cx="184.5" cy="1070.5" r="4.85"/><circle cx="188.5" cy="1120.5" r="4.85"/><circle cx="193.5" cy="1145.5" r="4.85"/><circle cx="197.5" cy="1095.5" r="4.85"/><circle cx="202.5" cy="1019.5" r="4.85"/><circle cx="206.5" cy="1044.5" r="4.85"/><circle cx="210.5" cy="1044.5" r="4.85"/><circle cx="215.5" cy="1095.5" r="4.85"/><circle cx="219.5" cy="1095.5" r="4.85"/><circle cx="224.5" cy="944.5" r="4.85"/><circle cx="228.5" cy="1019.5" r="4.85"/><circle cx="232.5" cy="1019.5" r="4.85"/><circle cx="237.5" cy="969.5" r="4.85"/><circle cx="241.5" cy="969.5" r="4.85"/><circle cx="246.5" cy="1070.5" r="4.85"/><circle cx="250.5" cy="994.5" r="4.85"/><circle cx="255.5" cy="894.5" r="4.85"/><circle cx="259.5" cy="1044.5" r="4.85"/><circle cx="263.5" cy="894.5" r="4.85"/><circle cx="268.5" cy="1019.5" r="4.85"/><circle cx="272.5" cy="818.5" r="4.85"/><circle cx="277.5" cy="793.5" r="4.85"/><circle cx="281.5" cy="743.5" r="4.85"/><circle cx="286.5" cy="944.5" r="4.85"/><circle cx="290.5" cy="818.5" r="4.85"/><circle cx="294.5" cy="818.5" r="4.85"/><circle cx="299.5" cy="868.5" r="4.85"/><circle cx="303.5" cy="843.5" r="4.85"/><circle cx="308.5" cy="994.5" r="4.85"/><circle cx="312.5" cy="843.5" r="4.85"/><circle cx="316.5" cy="843.5" r="4.85"/><circle cx="321.5" cy="843.5" r="4.85"/><circle cx="325.5" cy="894.5" r="4.85"/><circle cx="330.5" cy="868.5" r="4.85"/><circle cx="334.5" cy="1070.5" r="4.85"/><circle cx="339.5" cy="743.5" r="4.85"/><circle cx="343.5" cy="818.5" r="4.85"/><circle cx="347.5" cy="1044.5" r="4.85"/><circle cx="352.5" cy="868.5" r="4.85"/><circle cx="356.5" cy="843.5" r="4.85"/><circle cx="361.5" cy="868.5" r="4.85"/><circle cx="365.5" cy="743.5" r="4.85"/><circle cx="369.5" cy="843.5" r="4.85"/><circle cx="374.5" cy="868.5" r="4.85"/><circle cx="378.5" cy="894.5" r="4.85"/><circle cx="383.5" cy="894.5" r="4.85"/><circle cx="387.5" cy="969.5" r="4.85"/><circle cx="392.5" cy="868.5" r="4.85"/><circle cx="396.5" cy="919.5" r="4.85"/><circle cx="400.5" cy="1019.5" r="4.85"/><circle cx="405.5" cy="1019.5" r="4.85"/><circle cx="409.5" cy="994.5" r="4.85"/><circle cx="414.5" cy="944.5" r="4.85"/><circle cx="418.5" cy="994.5" r="4.85"/><circle cx="423.5" cy="894.5" r="4.85"/><circle cx="427.5" cy="894.5" r="4.85"/><circle cx="431.5" cy="944.5" r="4.85"/><circle cx="436.5" cy="969.5" r="4.85"/><circle cx="440.5" cy="1044.5" r="4.85"/><circle cx="445.5" cy="1070.5" r="4.85"/><circle cx="449.5" cy="1070.5" r="4.85"/><circle cx="453.5" cy="1120.5" r="4.85"/><circle cx="458.5" cy="1044.5" r="4.85"/><circle cx="462.5" cy="843.5" r="4.85"/><circle cx="467.5" cy="1044.5" r="4.85"/><circle cx="471.5" cy="1145.5" r="4.85"/><circle cx="476.5" cy="1070.5" r="4.85"/><circle cx="480.5" cy="1070.5" r="4.85"/><circle cx="484.5" cy="1044.5" r="4.85"/><circle cx="489.5" cy="1095.5" r="4.85"/><circle cx="493.5" cy="1095.5" r="4.85"/><circle cx="498.5" cy="1095.5" r="4.85"/><circle cx="502.5" cy="1070.5" r="4.85"/><circle cx="506.5" cy="1120.5" r="4.85"/><circle cx="511.5" cy="1095.5" r="4.85"/><circle cx="515.5" cy="1120.5" r="4.85"/><circle cx="520.5" cy="1070.5" r="4.85"/><circle cx="524.5" cy="1120.5" r="4.85"/><circle cx="529.5" cy="1044.5" r="4.85"/><circle cx="533.5" cy="1145.5" r="4.85"/><circle cx="537.5" cy="1070.5" r="4.85"/><circle cx="542.5" cy="1095.5" r="4.85"/><circle cx="546.5" cy="1145.5" r="4.85"/><circle cx="551.5" cy="1095.5" r="4.85"/><circle cx="555.5" cy="1145.5" r="4.85"/><circle cx="560.5" cy="1095.5" r="4.85"/><circle cx="564.5" cy="1120.5" r="4.85"/><circle cx="568.5" cy="1095.5" r="4.85"/><circle cx="573.5" cy="1120.5" r="4.85"/><circle cx="577.5" cy="1120.5" r="4.85"/><circle cx="582.5" cy="1120.5" r="4.85"/><circle cx="586.5" cy="1120.5" r="4.85"/><circle cx="590.5" cy="1145.5" r="4.85"/><circle cx="595.5" cy="1120.5" r="4.85"/><circle cx="599.5" cy="1095.5" r="4.85"/><circle cx="604.5" cy="1120.5" r="4.85"/><circle cx="608.5" cy="1120.5" r="4.85"/><circle cx="613.5" cy="1120.5" r="4.85"/><circle cx="617.5" cy="1145.5" r="4.85"/><circle cx="621.5" cy="1120.5" r="4.85"/><circle cx="626.5" cy="1120.5" r="4.85"/><circle cx="630.5" cy="1070.5" r="4.85"/><circle cx="635.5" cy="1095.5" r="4.85"/><circle cx="639.5" cy="1145.5" r="4.85"/><circle cx="643.5" cy="1145.5" r="4.85"/><circle cx="648.5" cy="1145.5" r="4.85"/><circle cx="652.5" cy="1145.5" r="4.85"/><circle cx="657.5" cy="1095.5" r="4.85"/><circle cx="661.5" cy="1070.5" r="4.85"/><circle cx="666.5" cy="1145.5" r="4.85"/><circle cx="670.5" cy="1095.5" r="4.85"/><circle cx="674.5" cy="1095.5" r="4.85"/><circle cx="679.5" cy="1145.5" r="4.85"/><circle cx="683.5" cy="1095.5" r="4.85"/><circle cx="688.5" cy="1095.5" r="4.85"/><circle cx="692.5" cy="1120.5" r="4.85"/><circle cx="697.5" cy="1120.5" r="4.85"/><circle cx="701.5" cy="1145.5" r="4.85"/><circle cx="705.5" cy="1120.5" r="4.85"/><circle cx="710.5" cy="1145.5" r="4.85"/><circle cx="714.5" cy="1120.5" r="4.85"/><circle cx="719.5" cy="1095.5" r="4.85"/><circle cx="723.5" cy="1145.5" r="4.85"/><circle cx="727.5" cy="1145.5" r="4.85"/><circle cx="732.5" cy="1120.5" r="4.85"/><circle cx="736.5" cy="1019.5" r="4.85"/><circle cx="741.5" cy="1145.5" r="4.85"/><circle cx="745.5" cy="1145.5" r="4.85"/><circle cx="750.5" cy="1145.5" r="4.85"/><circle cx="754.5" cy="1145.5" r="4.85"/><circle cx="758.5" cy="1145.5" r="4.85"/><circle cx="763.5" cy="1095.5" r="4.85"/><circle cx="767.5" cy="1145.5" r="4.85"/><circle cx="772.5" cy="1145.5" r="4.85"/><circle cx="776.5" cy="1145.5" r="4.85"/><circle cx="780.5" cy="1145.5" r="4.85"/></g>
<line x1="661.0" x2="661.0" y1="1145.05" y2="592.05" stroke="#1f77b4" stroke-opacity="0.6" stroke-width="2.1" stroke-dasharray="7.7 3.33"/>
<g stroke="#000" stroke-width="1.1"><line x1="179.5" x2="179.5" y1="568.5" y2="573.9"/><line x1="312.5" x2="312.5" y1="568.5" y2="573.9"/><line x1="449.5" x2="449.5" y1="568.5" y2="573.9"/><line x1="582.5" x2="582.5" y1="568.5" y2="573.9"/><line x1="719.5" x2="719.5" y1="568.5" y2="573.9"/><line x1="56.5" x2="56.5" y1="568.5" y2="573.9"/><line x1="785.5" x2="785.5" y1="568.5" y2="573.9"/><line x1="78.5" x2="78.5" y1="568.5" y2="571.8"/><line x1="109.5" x2="109.5" y1="568.5" y2="571.8"/><line x1="140.5" x2="140.5" y1="568.5" y2="571.8"/><line x1="171.5" x2="171.5" y1="568.5" y2="571.8"/><line x1="202.5" x2="202.5" y1="568.5" y2="571.8"/><line x1="232.5" x2="232.5" y1="568.5" y2="571.8"/><line x1="263.5" x2="263.5" y1="568.5" y2="571.8"/><line x1="294.5" x2="294.5" y1="568.5" y2="571.8"/><line x1="325.5" x2="325.5" y1="568.5" y2="571.8"/><line x1="356.5" x2="356.5" y1="568.5" y2="571.8"/><line x1="387.5" x2="387.5" y1="568.5" y2="571.8"/><line x1="418.5" x2="418.5" y1="568.5" y2="571.8"/><line x1="449.5" x2="449.5" y1="568.5" y2="571.8"/><line x1="480.5" x2="480.5" y1="568.5" y2="571.8"/><line x1="511.5" x2="511.5" y1="568.5" y2="571.8"/><line x1="542.5" x2="542.5" y1="568.5" y2="571.8"/><line x1="573.5" x2="573.5" y1="568.5" y2="571.8"/><line x1="604.5" x2="604.5" y1="568.5" y2="571.8"/><line x1="635.5" x2="635.5" y1="568.5" y2="571.8"/><line x1="666.5" x2="666.5" y1="568.5" y2="571.8"/><line x1="697.5" x2="697.5" y1="568.5" y2="571.8"/><line x1="727.5" x2="727.5" y1="568.5" y2="571.8"/><line x1="758.5" x2="758.5" y1="568.5" y2="571.8"/></g>
<rect x="56.5" y="15.5" width="729.0" height="553.0" fill="none" stroke="#000" stroke-width="1.1"/>
<g stroke="#000" stroke-width="1.1"><line x1="179.5" x2="179.5" y1="1145.5" y2="1150.9"/><line x1="312.5" x2="312.5" y1="1145.5" y2="1150.9"/><line x1="449.5" x2="449.5" y1="1145.5" y2="1150.9"/><line x1="582.5" x2="582.5" y1="1145.5" y2="1150.9"/><line x1="719.5" x2="719.5" y1="1145.5" y2="1150.9"/><line x1="56.5" x2="56.5" y1="1145.5" y2="1150.9"/><line x1="785.5" x2="785.5" y1="1145.5" y2="1150.9"/><line x1="78.5" x2="78.5" y1="1145.5" y2="1148.8"/><line x1="109.5" x2="109.5" y1="1145.5" y2="1148.8"/><line x1="140.5" x2="140.5" y1="1145.5" y2="1148.8"/><line x1="171.5" x2="171.5" y1="1145.5" y2="1148.8"/><line x1="202.5" x2="202.5" y1="1145.5" y2="1148.8"/><line x1="232.5" x2="232.5" y1="1145.5" y2="1148.8"/><line x1="263.5" x2="263.5" y1="1145.5" y2="1148.8"/><line x1="294.5" x2="294.5" y1="1145.5" y2="1148.8"/><line x1="325.5" x2="325.5" y1="1145.5" y2="1148.8"/><line x1="356.5" x2="356.5" y1="1145.5" y2="1148.8"/><line x1="387.5" x2="387.5" y1="1145.5" y2="1148.8"/><line x1="418.5" x2="418.5" y1="1145.5" y2="1148.8"/><line x1="449.5" x2="449.5" y1="1145.5" y2="1148.8"/><line x1="480.5" x2="480.5" y1="1145.5" y2="1148.8"/><line x1="511.5" x2="511.5" y1="1145.5" y2="1148.8"/><line x1="542.5" x2="542.5" y1="1145.5" y2="1148.8"/><line x1="573.5" x2="573.5" y1="1145.5" y2="1148.8"/><line x1="604.5" x2="604.5" y1="1145.5" y2="1148.8"/><line x1="635.5" x2="635.5" y1="1145.5" y2="1148.8"/><line x1="666.5" x2="666.5" y1="1145.5" y2="1148.8"/><line x1="697.5" x2="697.5" y1="1145.5" y2="1148.8"/><line x1="727.5" x2="727.5" y1="1145.5" y2="1148.8"/><line x1="758.5" x2="758.5" y1="1145.5" y2="1148.8"/></g>
<rect x="56.5" y="592.5" width="729.0" height="553.0" fill="none" stroke="#000" stroke-width="1.1"/>
<line x1="51.1" x2="56.5" y1="568.5" y2="568.5" stroke="#000" stroke-width="1.1"/><text x="37.09" y="573.1" font-size="14.5" textLength="8.31" lengthAdjust="spacingAndGlyphs">0</text><line x1="51.1" x2="56.5" y1="501.5" y2="501.5" stroke="#000" stroke-width="1.1"/><text x="28.79" y="506.1" font-size="14.5" textLength="16.61" lengthAdjust="spacingAndGlyphs">50</text><line x1="51.1" x2="56.5" y1="434.5" y2="434.5" stroke="#000" stroke-width="1.1"/><text x="20.48" y="439.1" font-size="14.5" textLength="24.92" lengthAdjust="spacingAndGlyphs">100</text><line x1="51.1" x2="56.5" y1="366.5" y2="366.5" stroke="#000" stroke-width="1.1"/><text x="20.48" y="371.1" font-size="14.5" textLength="24.92" lengthAdjust="spacingAndGlyphs">150</text><line x1="51.1" x2="56.5" y1="299.5" y2="299.5" stroke="#000" stroke-width="1.1"/><text x="20.48" y="304.1" font-size="14.5" textLength="24.92" lengthAdjust="spacingAndGlyphs">200</text><line x1="51.1" x2="56.5" y1="232.5" y2="232.5" stroke="#000" stroke-width="1.1"/><text x="20.48" y="237.1" font-size="14.5" textLength="24.92" lengthAdjust="spacingAndGlyphs">250</text><line x1="51.1" x2="56.5" y1="164.5" y2="164.5" stroke="#000" stroke-width="1.1"/><text x="20.48" y="169.1" font-size="14.5" textLength="24.92" lengthAdjust="spacingAndGlyphs">300</text><line x1="51.1" x2="56.5" y1="97.5" y2="97.5" stroke="#000" stroke-width="1.1"/><text x="20.48" y="102.1" font-size="14.5" textLength="24.92" lengthAdjust="spacingAndGlyphs">350</text><line x1="51.1" x2="56.5" y1="30.5" y2="30.5" stroke="#000" stroke-width="1.1"/><text x="20.48" y="35.1" font-size="14.5" textLength="24.92" lengthAdjust="spacingAndGlyphs">400</text>
<line x1="51.1" x2="56.5" y1="1145.5" y2="1145.5" stroke="#000" stroke-width="1.1"/><text x="24.64" y="1150.1" font-size="14.5" textLength="20.76" lengthAdjust="spacingAndGlyphs">0.0</text><line x1="51.1" x2="56.5" y1="1082.5" y2="1082.5" stroke="#000" stroke-width="1.1"/><text x="24.64" y="1087.1" font-size="14.5" textLength="20.76" lengthAdjust="spacingAndGlyphs">2.5</text><line x1="51.1" x2="56.5" y1="1019.5" y2="1019.5" stroke="#000" stroke-width="1.1"/><text x="24.64" y="1024.1" font-size="14.5" textLength="20.76" lengthAdjust="spacingAndGlyphs">5.0</text><line x1="51.1" x2="56.5" y1="956.5" y2="956.5" stroke="#000" stroke-width="1.1"/><text x="24.64" y="961.1" font-size="14.5" textLength="20.76" lengthAdjust="spacingAndGlyphs">7.5</text><line x1="51.1" x2="56.5" y1="894.5" y2="894.5" stroke="#000" stroke-width="1.1"/><text x="16.34" y="899.1" font-size="14.5" textLength="29.06" lengthAdjust="spacingAndGlyphs">10.0</text><line x1="51.1" x2="56.5" y1="831.5" y2="831.5" stroke="#000" stroke-width="1.1"/><text x="16.34" y="836.1" font-size="14.5" textLength="29.06" lengthAdjust="spacingAndGlyphs">12.5</text><line x1="51.1" x2="56.5" y1="768.5" y2="768.5" stroke="#000" stroke-width="1.1"/><text x="16.34" y="773.1" font-size="14.5" textLength="29.06" lengthAdjust="spacingAndGlyphs">15.0</text><line x1="51.1" x2="56.5" y1="705.5" y2="705.5" stroke="#000" stroke-width="1.1"/><text x="16.34" y="710.1" font-size="14.5" textLength="29.06" lengthAdjust="spacingAndGlyphs">17.5</text><line x1="51.1" x2="56.5" y1="642.5" y2="642.5" stroke="#000" stroke-width="1.1"/><text x="16.34" y="647.1" font-size="14.5" textLength="29.06" lengthAdjust="spacingAndGlyphs">20.0</text>
<text x="168.09" y="1165.6" font-size="14.5" textLength="22.83" lengthAdjust="spacingAndGlyphs">Apr</text>
<text x="162.70" y="1181.5" font-size="14.5" textLength="33.6" lengthAdjust="spacingAndGlyphs">2020</text>
<text x="298.86" y="1165.6" font-size="14.5" textLength="27.28" lengthAdjust="spacingAndGlyphs">May</text>
<text x="439.19" y="1165.6" font-size="14.5" textLength="20.61" lengthAdjust="spacingAndGlyphs">Jun</text>
<text x="574.54" y="1165.6" font-size="14.5" textLength="15.92" lengthAdjust="spacingAndGlyphs">Jul</text>
<text x="706.62" y="1165.6" font-size="14.5" textLength="25.76" lengthAdjust="spacingAndGlyphs">Aug</text>
<rect x="63.3" y="22.4" width="158.0" height="25.2" rx="2.8" ry="2.8" fill="#fff" fill-opacity="0.8" stroke="#ccc" stroke-opacity="0.8" stroke-width="1.1"/><line x1="67.2" x2="97.0" y1="33.9" y2="33.9" stroke="#1f77b4" stroke-width="2.1"/><text x="107.3" y="38.0" font-size="14.5" textLength="107.72" lengthAdjust="spacingAndGlyphs">daily confirmed</text>
<rect x="63.3" y="599.4" width="135.3" height="25.2" rx="2.8" ry="2.8" fill="#fff" fill-opacity="0.8" stroke="#ccc" stroke-opacity="0.8" stroke-width="1.1"/><line x1="67.2" x2="97.0" y1="610.0" y2="610.0" stroke="#1f77b4" stroke-width="2.1"/><text x="107.3" y="615.0" font-size="14.5" textLength="85.04" lengthAdjust="spacingAndGlyphs">daily deaths</text>
<text x="322.2" y="36.3" font-size="17.4" textLength="149.66" lengthAdjust="spacingAndGlyphs">Delaware 28 days</text>
</svg></body></html>
